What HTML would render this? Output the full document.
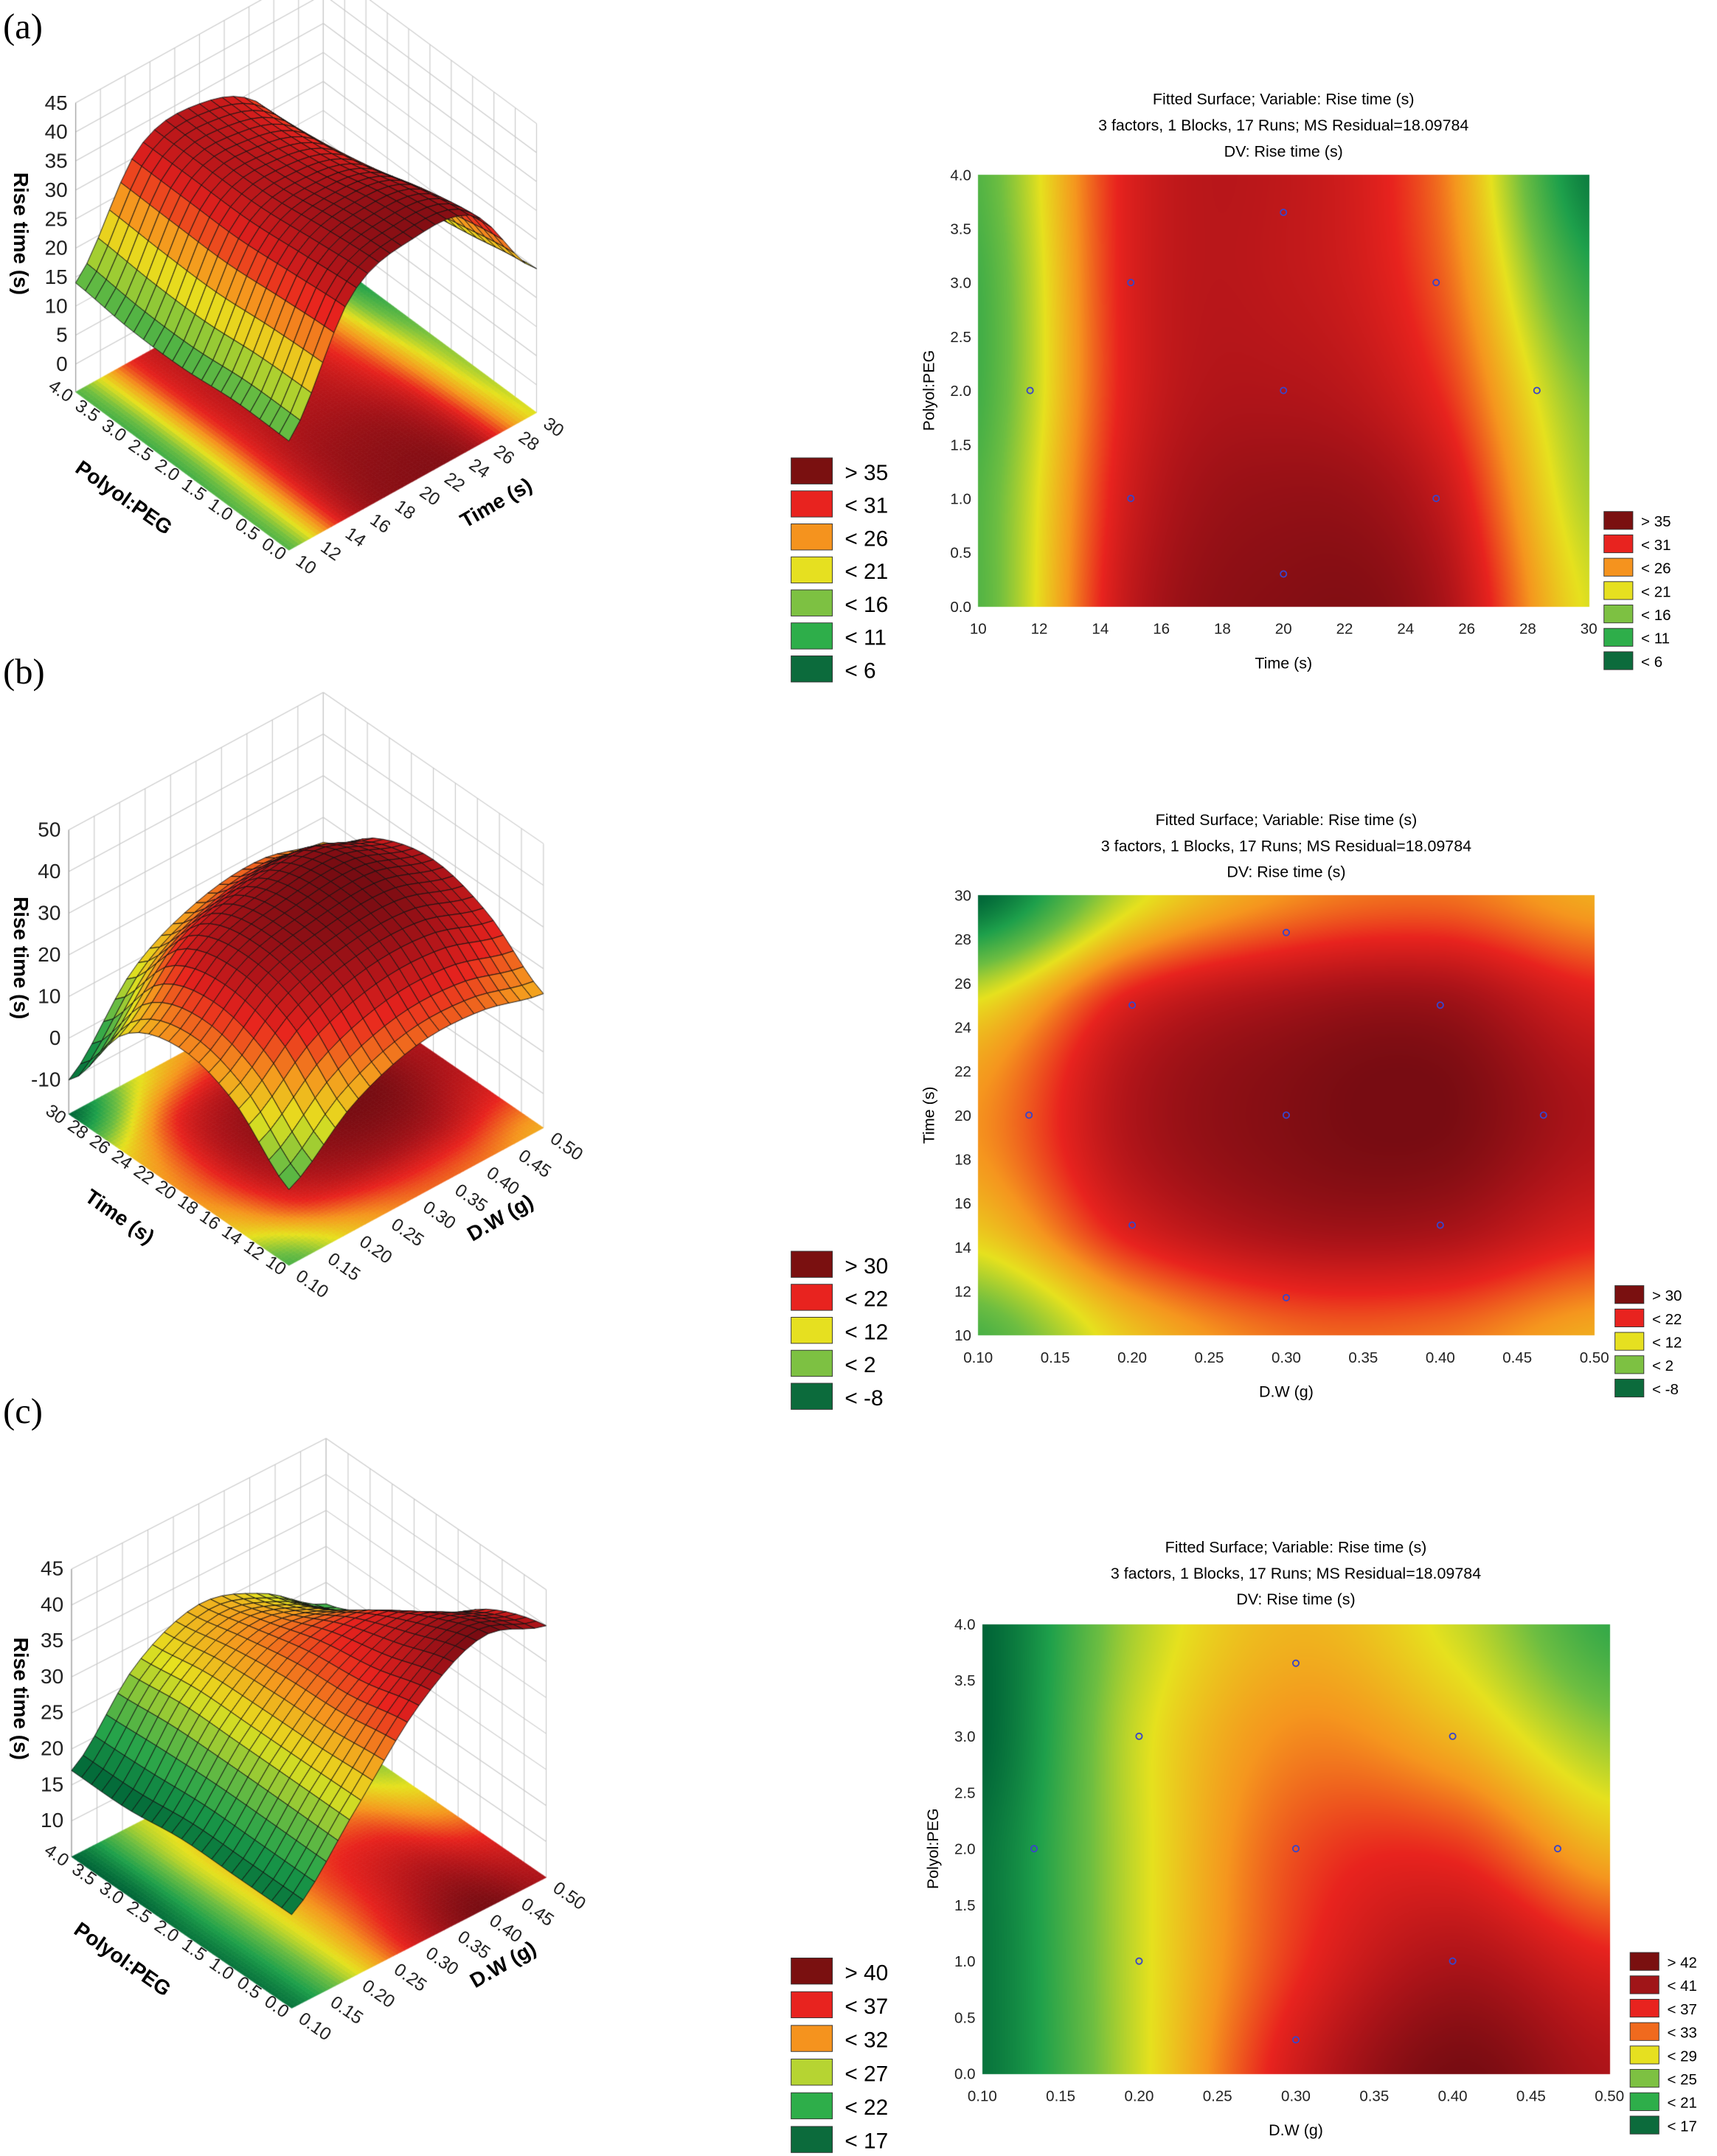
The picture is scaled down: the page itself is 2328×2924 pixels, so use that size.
<!DOCTYPE html>
<html><head><meta charset="utf-8"><title>Rise time response surfaces</title>
<style>body{margin:0;background:#fff}</style></head>
<body>
<div style="position:relative;width:2328px;height:2924px;overflow:hidden">
<canvas id="cv" width="2328" height="2924" style="position:absolute;left:0;top:0"></canvas>
<svg id="sv" width="2328" height="2924" viewBox="0 0 1248 1568" style="position:absolute;left:0;top:0" font-family="Liberation Sans, DejaVu Sans, sans-serif"></svg>
</div>
<script>
// ---------- data ----------
const gridA = [[14,33,37,35,20],[14,32,36,33,18],[13,31,34,30,16],[13,31,33,28,12],[14,31,33,27,8]];
const gridB = [[0,12,18,18,14],[12,24,29,29,24],[16,28,32,33,28],[10,24,29,30,24],[-10,8,16,18,14]];
const gridC = [[18,28,38,43,40],[18,28,36,40,37],[18,28,35,36,31],[17,28,33,31,26],[17,27,31,28,22]];
const timeTicks = [10,12,14,16,18,20,22,24,26,28,30];
const polyTicks = [0,0.5,1,1.5,2,2.5,3,3.5,4];
const dwTicks = [0.10,0.15,0.20,0.25,0.30,0.35,0.40,0.45,0.50];
const zTicksA = [0,5,10,15,20,25,30,35,40,45];
const zTicksB = [-10,0,10,20,30,40,50];
const zTicksC = [10,15,20,25,30,35,40,45];
const legend3dA = ['> 35','< 31','< 26','< 21','< 16','< 11','< 6'];
const legend3dB = ['> 30','< 22','< 12','< 2','< -8'];
const legend3dC = ['> 40','< 37','< 32','< 27','< 22','< 17'];
const legendCC = ['> 42','< 41','< 37','< 33','< 29','< 25','< 21','< 17'];
const ptsA_x = [15,20,25,11.7,20,28.3,15,25,20];
const ptsA_y = [3,3.65,3,2,2,2,1,1,0.3];
const ptsB_x = [0.2,0.3,0.4,0.133,0.3,0.467,0.2,0.4,0.3];
const ptsB_y = [25,28.3,25,20,20,20,15,15,11.7];
const ptsC_x = [0.3,0.2,0.4,0.133,0.3,0.467,0.2,0.4,0.3];
const ptsC_y = [3.65,3,3,2,2,2,1,1,0.3];

const S = 2328/1248;
const cv = document.getElementById('cv'), ctx = cv.getContext('2d');
const sv = document.getElementById('sv'), NS='http://www.w3.org/2000/svg';
const stops=[[0,[0,100,55]],[0.15,[30,160,75]],[0.3,[110,190,65]],[0.45,[230,225,30]],[0.6,[245,150,30]],[0.75,[232,35,30]],[0.88,[175,20,25]],[1,[120,12,18]]];
function col(v,mn,mx){let u=(v-mn)/(mx-mn);u=Math.max(0,Math.min(1,u));for(let i=1;i<stops.length;i++){if(u<=stops[i][0]){const a=stops[i-1],b=stops[i],f=(u-a[0])/(b[0]-a[0]);return a[1].map((c,k)=>Math.round(c+(b[1][k]-c)*f));}}return stops[stops.length-1][1];}
function cr(p0,p1,p2,p3,t){return 0.5*((2*p1)+(-p0+p2)*t+(2*p0-5*p1+4*p2-p3)*t*t+(-p0+3*p1-3*p2+p3)*t*t*t);}
function val(g,u,v){const nr=g.length,nc=g[0].length;const gx=u*(nc-1),gy=v*(nr-1);const ix=Math.min(Math.floor(gx),nc-2),iy=Math.min(Math.floor(gy),nr-2);const fx=gx-ix,fy=gy-iy;
 const row=r=>{r=Math.max(0,Math.min(nr-1,r));const c=k=>g[r][Math.max(0,Math.min(nc-1,k))];return cr(c(ix-1),c(ix),c(ix+1),c(ix+2),fx);};
 return cr(row(iy-1),row(iy),row(iy+1),row(iy+2),fy);}
function txt(x,y,s,size,name,anchor,extra){const t=document.createElementNS(NS,'text');t.setAttribute('x',x);t.setAttribute('y',y);t.setAttribute('font-size',size);t.setAttribute('text-anchor',anchor||'start');if(extra)for(const k in extra)t.setAttribute(k,extra[k]);
 
 
 t.textContent=s;sv.appendChild(t);return t;}
function rect(x,y,w,h,fill,name){const r=document.createElementNS(NS,'rect');r.setAttribute('x',x);r.setAttribute('y',y);r.setAttribute('width',w);r.setAttribute('height',h);r.setAttribute('fill',fill);r.setAttribute('stroke','#333');r.setAttribute('stroke-width','0.5');
 
 
 sv.appendChild(r);}
const fmt=(v,d)=>v.toFixed(d);

// ---------- contour panels ----------
function contour(c){
 const X0=Math.round(c.x0*S),X1=Math.round(c.x1*S),Y0=Math.round(c.y0*S),Y1=Math.round(c.y1*S);
 const img=ctx.createImageData(X1-X0,Y1-Y0);
 for(let j=0;j<Y1-Y0;j++){const v=1-j/(Y1-Y0-1);for(let i=0;i<X1-X0;i++){const u=i/(X1-X0-1);const cc=col(val(c.grid,u,v),c.mn,c.mx);const k=(j*(X1-X0)+i)*4;img.data[k]=cc[0];img.data[k+1]=cc[1];img.data[k+2]=cc[2];img.data[k+3]=255;}}
 ctx.putImageData(img,X0,Y0);
 const sx=x=>c.x0+(x-c.xt[0])/(c.xt[c.xt.length-1]-c.xt[0])*(c.x1-c.x0);
 const sy=y=>c.y1-(y-c.yt[0])/(c.yt[c.yt.length-1]-c.yt[0])*(c.y1-c.y0);
 c.xt.forEach(t=>txt(sx(t),c.y1+20,fmt(t,c.xd),11,'x-tick-label','middle',{fill:'#222'}));
 c.yt.forEach(t=>txt(c.x0-5,sy(t)+4,fmt(t,c.yd),11,'y-tick-label','end',{fill:'#222'}));
 txt((c.x0+c.x1)/2,c.y1+45,c.xl,11.5,'x-axis-title','middle');
 const yc=(c.y0+c.y1)/2;txt(c.x0-32,yc,c.yl,11.5,'y-axis-title','middle',{transform:`rotate(-90 ${c.x0-32} ${yc})`});
 c.titles.forEach((s,i)=>txt(c.tx,c.ty+i*19,s,11.5,'chart-title','middle'));
 c.px.forEach((x,i)=>{const e=document.createElementNS(NS,'circle');e.setAttribute('cx',sx(x));e.setAttribute('cy',sy(c.py[i]));e.setAttribute('r',2.2);e.setAttribute('fill','none');e.setAttribute('stroke','#3a45c8');e.setAttribute('stroke-width','1');
  
  
  sv.appendChild(e);});
 c.leg.forEach((s,i)=>{rect(c.lx,c.ly+i*17,21,13,c.lc[i],'legend-swatch');txt(c.lx+27,c.ly+i*17+11,s,11,'legend-entry');});
}
const T3=['Fitted Surface; Variable: Rise time (s)','3 factors, 1 Blocks, 17 Runs; MS Residual=18.09784','DV: Rise time (s)'];
const C_dr='#7a1010',C_r='#e8231f',C_o='#f5931e',C_y='#e6e020',C_lg='#7dc142',C_g='#2eae4a',C_dg='#0c6b3c';
contour({grid:gridA,mn:6,mx:38,x0:711,x1:1155,y0:127,y1:441,xt:timeTicks,yt:polyTicks,xd:0,yd:1,xl:'Time (s)',yl:'Polyol:PEG',titles:T3,tx:933,ty:76,px:ptsA_x,py:ptsA_y,leg:legend3dA,lc:[C_dr,C_r,C_o,C_y,C_lg,C_g,C_dg],lx:1166,ly:372});
contour({grid:gridB,mn:-10,mx:33,x0:711,x1:1159,y0:651,y1:971,xt:dwTicks,yt:timeTicks.slice(),xd:2,yd:0,xl:'D.W (g)',yl:'Time (s)',titles:T3,tx:935,ty:600,px:ptsB_x,py:ptsB_y,leg:legend3dB,lc:[C_dr,C_r,C_y,C_lg,C_dg],lx:1174,ly:935});
contour({grid:gridC,mn:17,mx:43,x0:714,x1:1170,y0:1181,y1:1508,xt:dwTicks,yt:polyTicks,xd:2,yd:1,xl:'D.W (g)',yl:'Polyol:PEG',titles:T3,tx:942,ty:1129,px:ptsC_x,py:ptsC_y,leg:legendCC,lc:[C_dr,'#a01518',C_r,'#f06a1e',C_y,C_lg,C_g,C_dg],lx:1185,ly:1420});

// ---------- 3D panels ----------
function surf(c){
 const P=(u,v,z)=>[c.o[0]+u*c.t[0]+v*c.p[0], c.o[1]+u*c.t[1]+v*c.p[1]-(z-c.zf)*c.k];
 ctx.save();ctx.scale(S,S);
 ctx.strokeStyle='#c8c8c8';ctx.lineWidth=0.6;
 const line=(a,b)=>{ctx.beginPath();ctx.moveTo(a[0],a[1]);ctx.lineTo(b[0],b[1]);ctx.stroke();};
 c.zt.forEach(z=>{line(P(0,1,z),P(1,1,z));line(P(1,1,z),P(1,0,z));});
 for(let i=0;i<=10;i++){const f=i/10;line(P(f,1,c.zf),P(f,1,c.zmax));line(P(1,f,c.zf),P(1,f,c.zmax));}
 ctx.strokeStyle='#999';line(P(0,1,c.zf),P(0,1,c.zmax));
 const NF=70;
 for(let i=0;i<NF;i++)for(let j=0;j<NF;j++){const u=i/NF,v=j/NF,d=1/NF;const cc=col(val(c.grid,u+d/2,v+d/2),c.mn,c.mx);ctx.fillStyle=`rgb(${cc})`;
  const a=P(u,v,c.zf),b=P(u+d,v,c.zf),e=P(u+d,v+d,c.zf),f=P(u,v+d,c.zf);ctx.beginPath();ctx.moveTo(a[0],a[1]);ctx.lineTo(b[0],b[1]);ctx.lineTo(e[0],e[1]);ctx.lineTo(f[0],f[1]);ctx.closePath();ctx.fill();ctx.strokeStyle=ctx.fillStyle;ctx.lineWidth=0.4;ctx.stroke();}
 const N=22,q=[];
 for(let i=0;i<N;i++)for(let j=0;j<N;j++)q.push([i,j]);
 q.sort((a,b)=>(b[0]+b[1])-(a[0]+a[1]));
 q.forEach(([i,j])=>{const u=i/N,v=j/N,d=1/N;const z=(u,v)=>val(c.grid,u,v);
  const pts=[[u,v],[u+d,v],[u+d,v+d],[u,v+d]].map(([a,b])=>P(a,b,z(a,b)));
  const cc=col(z(u+d/2,v+d/2),c.mn,c.mx);ctx.fillStyle=`rgb(${cc})`;ctx.beginPath();pts.forEach((p,k)=>k?ctx.lineTo(p[0],p[1]):ctx.moveTo(p[0],p[1]));ctx.closePath();ctx.fill();ctx.strokeStyle='#111';ctx.lineWidth=0.5;ctx.stroke();});
 ctx.restore();
 c.zt.forEach(z=>{const p=P(0,1,z);txt(p[0]-6,p[1]+5,String(z),15,'z-tick-label','end',{fill:'#222'});});
 c.ut.forEach((t,i)=>{const p=P(i/(c.ut.length-1),0,c.zf);txt(p[0]+4,p[1]+10,fmt(t,c.ud),13,'u-tick-label','start',{fill:'#222',transform:`rotate(35 ${p[0]+4} ${p[1]+10})`});});
 c.vt.forEach((t,i)=>{const p=P(0,i/(c.vt.length-1),c.zf);txt(p[0]-6,p[1]+8,fmt(t,c.vd),13,'v-tick-label','end',{fill:'#222',transform:`rotate(35 ${p[0]-6} ${p[1]+8})`});});
 const zm=P(0,1,(c.zf+c.zmax)/2);txt(10,zm[1]-10,'Rise time (s)',15,'z-axis-title','middle',{'font-weight':'bold',transform:`rotate(90 10 ${zm[1]-10})`});
 const um=P(0.6,0,c.zf);txt(um[0]+45,um[1]+30,c.ul,15,'u-axis-title','middle',{'font-weight':'bold',transform:`rotate(-30 ${um[0]+45} ${um[1]+30})`});
 const vm=P(0,0.6,c.zf);txt(vm[0]-30,vm[1]+35,c.vl,15,'v-axis-title','middle',{'font-weight':'bold',transform:`rotate(35 ${vm[0]-30} ${vm[1]+35})`});
 c.leg.forEach((s,i)=>{rect(575,c.ly+i*c.ls,30,19,c.lc[i],'legend-swatch');txt(614,c.ly+i*c.ls+16,s,16,'legend-entry');});
}
surf({grid:gridA,mn:6,mx:38,o:[210,400],t:[180,-100],p:[-155,-115],zf:-4.8,k:4.22,zmax:45,zt:zTicksA,ut:timeTicks,ud:0,vt:polyTicks,vd:1,ul:'Time (s)',vl:'Polyol:PEG',leg:legend3dA,lc:[C_dr,C_r,C_o,C_y,C_lg,C_g,C_dg],ly:333,ls:24});
surf({grid:gridB,mn:-10,mx:33,o:[210,920],t:[185,-100],p:[-160,-110],zf:-18.2,k:3.03,zmax:50,zt:zTicksB,ut:dwTicks,ud:2,vt:timeTicks,vd:0,ul:'D.W (g)',vl:'Time (s)',leg:legend3dB,lc:[C_dr,C_r,C_y,C_lg,C_dg],ly:910,ls:24});
surf({grid:gridC,mn:17,mx:43,o:[212,1460],t:[185,-95],p:[-160,-110],zf:5,k:5.23,zmax:45,zt:zTicksC,ut:dwTicks,ud:2,vt:polyTicks,vd:1,ul:'D.W (g)',vl:'Polyol:PEG',leg:legend3dC,lc:[C_dr,C_r,C_o,'#b6d432',C_g,C_dg],ly:1424,ls:24.5});

txt(2,28,'(a)',26,'panel-label-a','start',{'font-family':'Liberation Serif, serif'});
txt(2,497,'(b)',26,'panel-label-b','start',{'font-family':'Liberation Serif, serif'});
txt(2,1035,'(c)',26,'panel-label-c','start',{'font-family':'Liberation Serif, serif'});
</script>
</body></html>
